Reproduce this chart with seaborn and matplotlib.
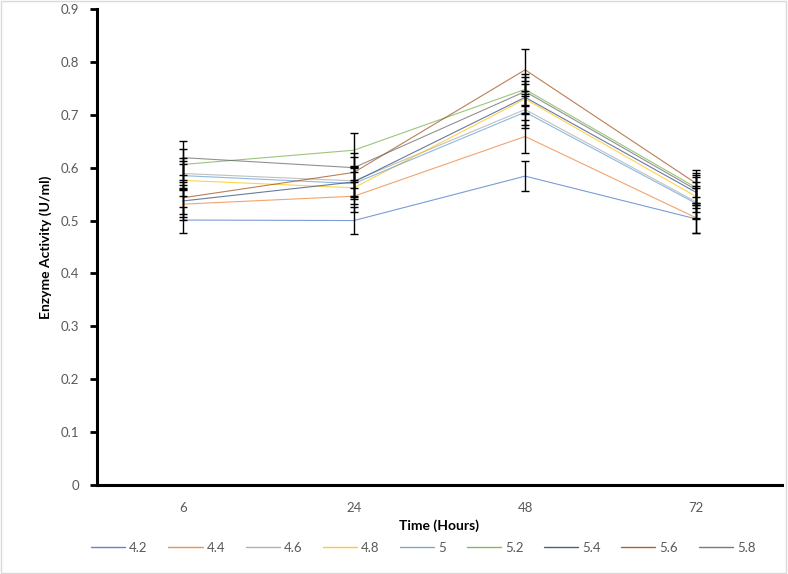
import numpy as np
import matplotlib
matplotlib.use("Agg")
import matplotlib.pyplot as plt
from matplotlib.lines import Line2D
import seaborn as sb
import pandas as pd

# Données
temps = ["6", "24", "48", "72"]
ph = ["4.2", "4.4", "4.6", "4.8", "5", "5.2", "5.4", "5.6", "5.8"]

v_42 = [0.501, 0.500, 0.584, 0.503]
v_44 = [0.531, 0.546, 0.659, 0.505]
v_46 = [0.589, 0.575, 0.710, 0.535]
v_48 = [0.576, 0.562, 0.730, 0.545]
v_50 = [0.585, 0.570, 0.705, 0.532]
v_52 = [0.606, 0.633, 0.748, 0.562]
v_54 = [0.537, 0.573, 0.733, 0.553]
v_56 = [0.543, 0.591, 0.785, 0.570]
v_58 = [0.619, 0.600, 0.744, 0.558]

e_42 = [0.025, 0.026, 0.029, 0.027]
e_44 = [0.030, 0.030, 0.032, 0.028]
e_46 = [0.030, 0.028, 0.030, 0.030]
e_48 = [0.030, 0.030, 0.028, 0.028]
e_50 = [0.028, 0.030, 0.030, 0.030]
e_52 = [0.030, 0.032, 0.030, 0.028]
e_54 = [0.030, 0.028, 0.030, 0.030]
e_56 = [0.030, 0.030, 0.040, 0.026]
e_58 = [0.032, 0.028, 0.028, 0.028]

valeurs = [v_42, v_44, v_46, v_48, v_50, v_52, v_54, v_56, v_58]
erreurs = [e_42, e_44, e_46, e_48, e_50, e_52, e_54, e_56, e_58]

couleurs = ["#4472C4", "#ED7D31", "#A5A5A5", "#FFC000", "#5B9BD5",
            "#70AD47", "#264478", "#9E480E", "#636363"]

# Tableau long pour seaborn
lignes = []
for p, vals, errs in zip(ph, valeurs, erreurs):
    for i, (v, e) in enumerate(zip(vals, errs)):
        lignes.append({"pos": i, "temps": temps[i], "pH": p, "activite": v, "err": e})
df = pd.DataFrame(lignes)

sb.set_theme(style="white")
plt.rcParams["font.family"] = ["Lato", "DejaVu Sans"]

fig = plt.figure(figsize=(7.88, 5.74), dpi=100)
ax = fig.add_axes([97 / 788, 1 - 485 / 574, 685 / 788, 476 / 574])

sb.lineplot(data=df, x="pos", y="activite", hue="pH", palette=couleurs,
            linewidth=0.8, alpha=0.7, ax=ax, legend=False)

# Barres d'erreur
for p, vals, errs in zip(ph, valeurs, erreurs):
    ax.errorbar(range(len(temps)), vals, yerr=errs, fmt="none", ecolor="black",
                elinewidth=1.0, capsize=2.7, capthick=1.0, zorder=3)

ax.set_xlim(-0.5, 3.5)
ax.set_ylim(0, 0.9)
ax.set_yticks(np.arange(0, 0.91, 0.1))
ax.set_yticklabels(["0", "0.1", "0.2", "0.3", "0.4", "0.5", "0.6", "0.7", "0.8", "0.9"])

# Graduations entre catégories, étiquettes au centre
ax.set_xticks([-0.5, 0.5, 1.5, 2.5, 3.5])
ax.set_xticklabels([])
ax.set_xticks(range(len(temps)), minor=True)
ax.set_xticklabels(temps, minor=True)
ax.tick_params(axis="x", which="major", length=5, width=2, direction="inout", color="black")
ax.tick_params(axis="x", which="minor", length=0, pad=12, labelsize=9.5, labelcolor="#595959")
ax.tick_params(axis="y", length=5, width=2, direction="out", color="black",
               pad=8, labelsize=9.5, labelcolor="#595959", left=True)

for s in ["top", "right"]:
    ax.spines[s].set_visible(False)
for s in ["left", "bottom"]:
    ax.spines[s].set_color("black")
    ax.spines[s].set_linewidth(2.2)

ax.set_xlabel("Time (Hours)", fontsize=10, fontweight="bold", color="black")
ax.set_ylabel("Enzyme Activity (U/ml)", fontsize=10, fontweight="bold", color="black")
ax.xaxis.set_label_coords(0.5, -0.073)
ax.yaxis.set_label_coords(-0.066, 0.5)

# Légende en bas
handles = [Line2D([0, 1], [0, 0], color=c, linewidth=1.0, alpha=0.85) for c in couleurs]
fig.legend(handles, ph, loc="center", bbox_to_anchor=(0.537, 1 - 548 / 574),
           ncol=9, frameon=False, fontsize=9.5, handlelength=2.6, columnspacing=1.55,
           handletextpad=0.3, labelcolor="#595959")

# Cadre autour de la figure
fig.patches.append(plt.Rectangle((0.001, 0.001), 0.997, 0.997, transform=fig.transFigure,
                                 fill=False, edgecolor="#d9d9d9", linewidth=1))

plt.savefig("out.png", dpi=100)
